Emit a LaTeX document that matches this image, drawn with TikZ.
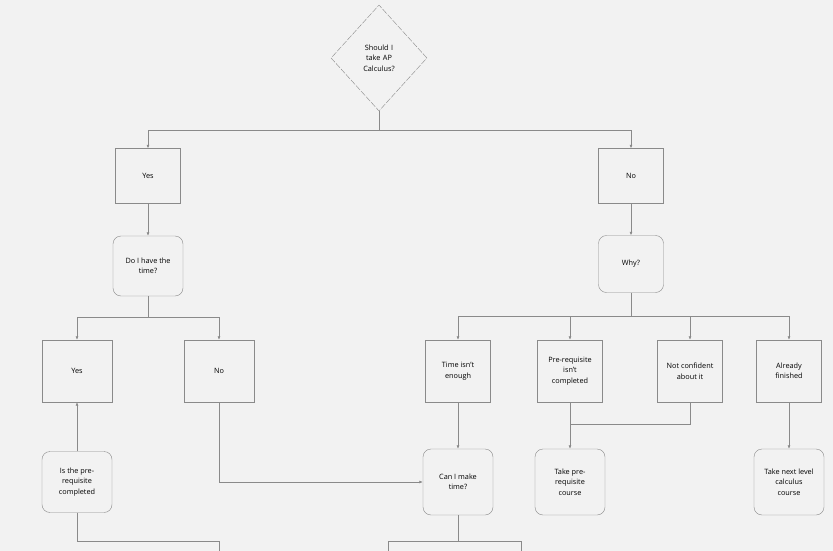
\documentclass[tikz,border=0pt]{standalone}
\usepackage{fontspec}
\setmainfont{Open Sans}
\usetikzlibrary{arrows.meta, shapes.geometric}
\definecolor{bg}{HTML}{F2F2F2}
\definecolor{edge}{HTML}{8A8A8A}
\tikzstyle{block} = [draw=edge, fill=bg, align=center, font=\fontsize{7.3}{10.5}\selectfont, inner sep=1pt]
\tikzstyle{box} = [block, rectangle, minimum width=65pt, minimum height=55pt]
\tikzstyle{tall} = [box, minimum height=62pt]
\tikzstyle{round} = [block, rectangle, rounded corners=8pt, minimum width=70pt, minimum height=62pt]
\tikzstyle{decision} = [block, diamond, dash pattern=on 6pt off 1.5pt, minimum width=96pt, minimum height=106pt, text width=40pt]
\tikzstyle{path} = [-{Latex[length=3.5pt,width=3pt]}, draw=edge, semithick]
\tikzstyle{line} = [draw=edge, semithick]

\begin{document}
\begin{tikzpicture}[x=1pt, y=-1pt]
    \fill [bg] (0,0) rectangle (833,551);
    \useasboundingbox (0,0) rectangle (833,551);

    % Question.
    \node (start) [decision] at (379,58) {Should I\\take AP\\Calculus?};

    % First answers.
    \node (yes) [box] at (148,176) {Yes};
    \node (no) [box] at (631,176) {No};
    \node (time) [round, minimum height=60pt] at (148,266) {Do I have the\\time?};
    \node (why) [round, minimum width=65pt, minimum height=57pt] at (631,264) {Why?};

    % Second row.
    \node (yes2) [tall, minimum width=70pt] at (77,371) {Yes};
    \node (no2) [tall, minimum width=70pt] at (219,371) {No};
    \node (short) [tall] at (458,371) {Time isn't\\enough};
    \node (prereq) [tall] at (570,371) {Pre-requisite\\isn't\\completed};
    \node (unsure) [tall] at (690,371) {Not confident\\about it};
    \node (done) [tall] at (789,371) {Already\\finished};

    % Third row.
    \node (check) [round, minimum height=61pt] at (77,482) {Is the pre-\\requisite\\completed};
    \node (make) [round, minimum height=66pt] at (458,482) {Can I make\\time?};
    \node (course) [round, minimum height=66pt] at (570,482) {Take pre-\\requisite\\course};
    \node (next) [round, minimum height=66pt] at (789,482) {Take next level\\calculus\\course};

    % Arrows.
    \draw [line] (start.south) -- (379,130) coordinate (split);
    \draw [path] (split) -| (yes.north);
    \draw [path] (split) -| (no.north);
    \draw [path] (yes) -- (time);
    \draw [path] (no) -- (why);

    \draw [line] (time.south) -- (148,317) coordinate (split2);
    \draw [path] (split2) -| (yes2.north);
    \draw [path] (split2) -| (no2.north);

    \draw [line] (why.south) -- (631,316) coordinate (split3);
    \foreach\n in {short, prereq, unsure, done} {
        \draw [path] (split3) -| (\n.north);
    }

    \draw [path] (check) -- (yes2);
    \draw [path] (no2.south) |- (make.west);
    \draw [path] (short) -- (make);
    \draw [path] (prereq) -- (course);
    \draw [line] (unsure.south) |- (570,424);
    \draw [path] (done) -- (next);

    % Continuing off the page.
    \coordinate (out1) at (219,551);
    \coordinate (out2) at (388,551);
    \coordinate (out3) at (521,551);
    \draw [line] (check.south) |- (219,541) -- (out1);
    \draw [line] (make.south) -- (458,541) coordinate (split4);
    \draw [line] (split4) -| (out2);
    \draw [line] (split4) -| (out3);
\end{tikzpicture}
\end{document}
